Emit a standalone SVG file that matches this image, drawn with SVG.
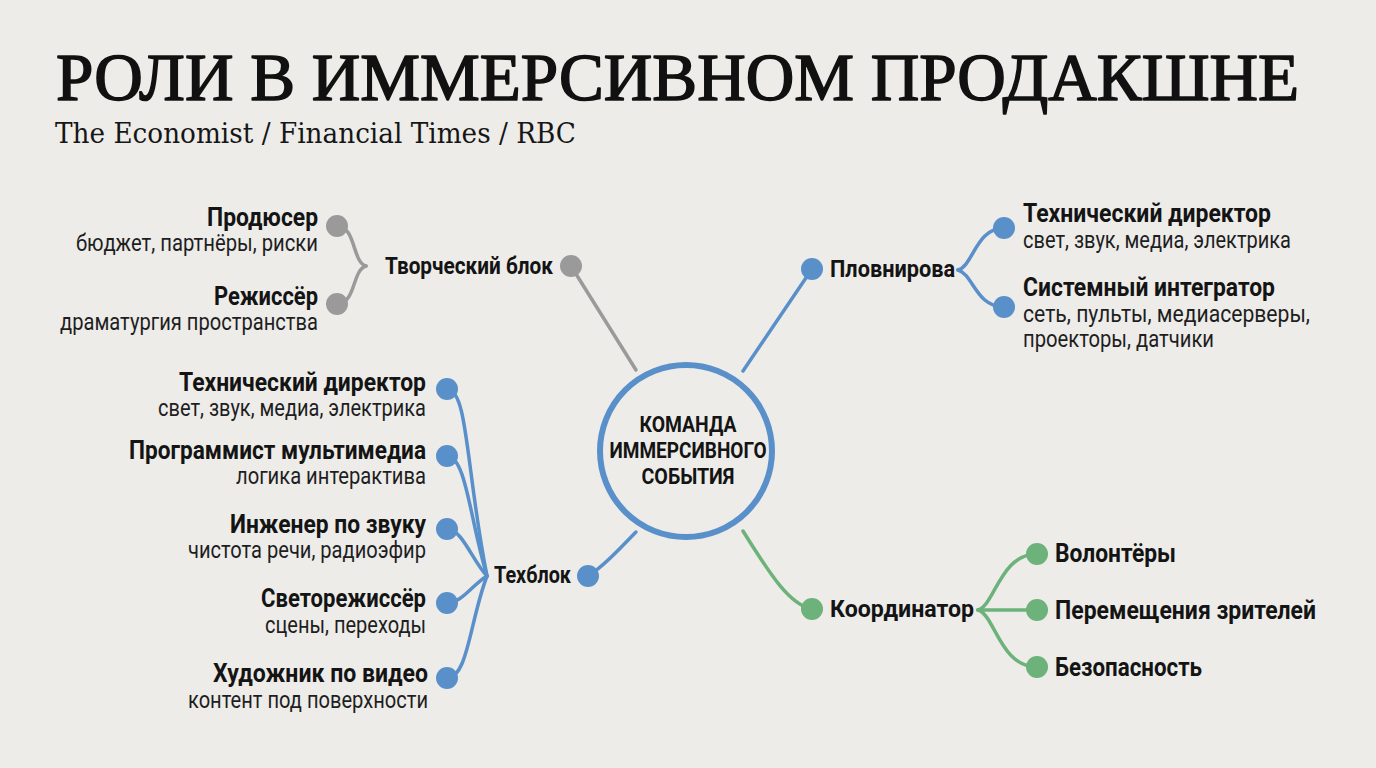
<svg xmlns="http://www.w3.org/2000/svg" width="1376" height="768" viewBox="0 0 1376 768">
<style>
.bg{fill:#edece9}
.title{font-family:"Liberation Serif","DejaVu Serif",serif;fill:#111;stroke:#111;stroke-width:1.6;stroke-linejoin:round}
.sub{font-family:"DejaVu Serif","Liberation Serif",serif;fill:#161616}
.b{font-family:Roboto,"Liberation Sans",sans-serif;font-weight:700;fill:#141414;font-size:25px}
.h{font-family:Roboto,"Liberation Sans",sans-serif;font-weight:700;fill:#141414;font-size:23px}
.s{font-family:Roboto,"Liberation Sans",sans-serif;font-weight:400;fill:#1e1e1e;font-size:23px}
.c{font-family:Roboto,"Liberation Sans",sans-serif;font-weight:700;fill:#141414;font-size:22px}
.r{text-anchor:end}
.gl{fill:none;stroke:#9a9a9a;stroke-width:3.5;stroke-linecap:round}
.bl{fill:none;stroke:#5a90ca;stroke-width:3.5;stroke-linecap:round}
.gr{fill:none;stroke:#6cb27a;stroke-width:3.5;stroke-linecap:round}
.gn{fill:#9a9a9a}
.bn{fill:#5a90ca}
.nn{fill:#6cb27a}
</style>
<rect class="bg" x="0" y="0" width="1376" height="768"/>
<g id="title">
<text class="title" x="56" y="100" font-size="67" textLength="1243" lengthAdjust="spacingAndGlyphs">РОЛИ В ИММЕРСИВНОМ ПРОДАКШНЕ</text>
<text class="sub" x="55" y="143" font-size="27" textLength="521" lengthAdjust="spacingAndGlyphs">The Economist / Financial Times / RBC</text>
</g>
<g id="connectors">
<path class="gl" d="M571,266 L636,370"/>
<path class="gl" d="M337,226 C356,226 352,262 366,266"/>
<path class="gl" d="M337,304 C356,304 352,270 366,266"/>
<path class="bl" d="M743,371 L812,269"/>
<path class="bl" d="M958,270 C973,266 976,228 1004,228"/>
<path class="bl" d="M958,270 C973,274 976,307 1004,307"/>
<path class="bl" d="M588,576 C605,566 622,546 636,532"/>
<path class="bl" d="M447,389 C468,389 466,470 487,576"/>
<path class="bl" d="M447,456 C466,456 470,520 487,576"/>
<path class="bl" d="M447,529 C462,529 472,560 487,576"/>
<path class="bl" d="M447,603 C462,603 472,585 487,576"/>
<path class="bl" d="M447,678 C468,678 470,620 487,576"/>
<path class="gr" d="M743,531 C771,576 790,605 812,609"/>
<path class="gr" d="M978,610 C995,605 1000,554 1037,554"/>
<path class="gr" d="M978,610 L1037,610"/>
<path class="gr" d="M978,610 C995,615 1000,667 1037,667"/>
</g>
<g id="center">
<circle cx="686" cy="451" r="86" fill="#edece9" stroke="#5a90ca" stroke-width="6"/>
<text class="c" x="688" y="432" text-anchor="middle" textLength="97" lengthAdjust="spacingAndGlyphs">КОМАНДА</text>
<text class="c" x="688" y="458" text-anchor="middle" textLength="157" lengthAdjust="spacingAndGlyphs">ИММЕРСИВНОГО</text>
<text class="c" x="688" y="484" text-anchor="middle" textLength="93" lengthAdjust="spacingAndGlyphs">СОБЫТИЯ</text>
</g>
<g id="tvorcheskiy">
<circle class="gn" cx="571" cy="266" r="11"/>
<text class="h r" x="553" y="274" textLength="168" lengthAdjust="spacingAndGlyphs">Творческий блок</text>
</g>
<g id="producer">
<circle class="gn" cx="337" cy="226" r="11"/>
<text class="b r" x="318" y="226" textLength="111" lengthAdjust="spacingAndGlyphs">Продюсер</text>
<text class="s r" x="318" y="251" textLength="242" lengthAdjust="spacingAndGlyphs">бюджет, партнёры, риски</text>
</g>
<g id="director">
<circle class="gn" cx="337" cy="304" r="11"/>
<text class="b r" x="318" y="305" textLength="104" lengthAdjust="spacingAndGlyphs">Режиссёр</text>
<text class="s r" x="318" y="330" textLength="258" lengthAdjust="spacingAndGlyphs">драматургия пространства</text>
</g>
<g id="plovnirova">
<circle class="bn" cx="812" cy="269" r="11"/>
<text class="h" x="830" y="277" textLength="125" lengthAdjust="spacingAndGlyphs">Пловнирова</text>
</g>
<g id="techdir-right">
<circle class="bn" cx="1004" cy="228" r="11"/>
<text class="b" x="1023" y="222" textLength="248" lengthAdjust="spacingAndGlyphs">Технический директор</text>
<text class="s" x="1023" y="248" textLength="268" lengthAdjust="spacingAndGlyphs">свет, звук, медиа, электрика</text>
</g>
<g id="integrator">
<circle class="bn" cx="1004" cy="307" r="11"/>
<text class="b" x="1023" y="296" textLength="252" lengthAdjust="spacingAndGlyphs">Системный интегратор</text>
<text class="s" x="1023" y="322" textLength="287" lengthAdjust="spacingAndGlyphs">сеть, пульты, медиасерверы,</text>
<text class="s" x="1023" y="347" textLength="191" lengthAdjust="spacingAndGlyphs">проекторы, датчики</text>
</g>
<g id="techblok">
<circle class="bn" cx="588" cy="576" r="11"/>
<text class="h r" x="571" y="583" textLength="77" lengthAdjust="spacingAndGlyphs">Техблок</text>
</g>
<g id="techdir-left">
<circle class="bn" cx="447" cy="389" r="11"/>
<text class="b r" x="426" y="391" textLength="247" lengthAdjust="spacingAndGlyphs">Технический директор</text>
<text class="s r" x="426" y="416" textLength="268" lengthAdjust="spacingAndGlyphs">свет, звук, медиа, электрика</text>
</g>
<g id="programmer">
<circle class="bn" cx="447" cy="456" r="11"/>
<text class="b r" x="426" y="459" textLength="297" lengthAdjust="spacingAndGlyphs">Программист мультимедиа</text>
<text class="s r" x="426" y="484" textLength="190" lengthAdjust="spacingAndGlyphs">логика интерактива</text>
</g>
<g id="sound">
<circle class="bn" cx="447" cy="529" r="11"/>
<text class="b r" x="426" y="533" textLength="196" lengthAdjust="spacingAndGlyphs">Инженер по звуку</text>
<text class="s r" x="426" y="558" textLength="238" lengthAdjust="spacingAndGlyphs">чистота речи, радиоэфир</text>
</g>
<g id="light">
<circle class="bn" cx="447" cy="603" r="11"/>
<text class="b r" x="426" y="607" textLength="165" lengthAdjust="spacingAndGlyphs">Светорежиссёр</text>
<text class="s r" x="426" y="633" textLength="161" lengthAdjust="spacingAndGlyphs">сцены, переходы</text>
</g>
<g id="video">
<circle class="bn" cx="447" cy="678" r="11"/>
<text class="b r" x="428" y="682" textLength="215" lengthAdjust="spacingAndGlyphs">Художник по видео</text>
<text class="s r" x="428" y="708" textLength="240" lengthAdjust="spacingAndGlyphs">контент под поверхности</text>
</g>
<g id="coordinator">
<circle class="nn" cx="812" cy="609" r="11"/>
<text class="h" x="830" y="617" textLength="144" lengthAdjust="spacingAndGlyphs">Координатор</text>
</g>
<g id="volunteers">
<circle class="nn" cx="1037" cy="554" r="11"/>
<text class="b" x="1055" y="562" textLength="121" lengthAdjust="spacingAndGlyphs">Волонтёры</text>
</g>
<g id="movement">
<circle class="nn" cx="1037" cy="610" r="11"/>
<text class="b" x="1055" y="619" textLength="261" lengthAdjust="spacingAndGlyphs">Перемещения зрителей</text>
</g>
<g id="safety">
<circle class="nn" cx="1037" cy="667" r="11"/>
<text class="b" x="1055" y="676" textLength="147" lengthAdjust="spacingAndGlyphs">Безопасность</text>
</g>
</svg>
